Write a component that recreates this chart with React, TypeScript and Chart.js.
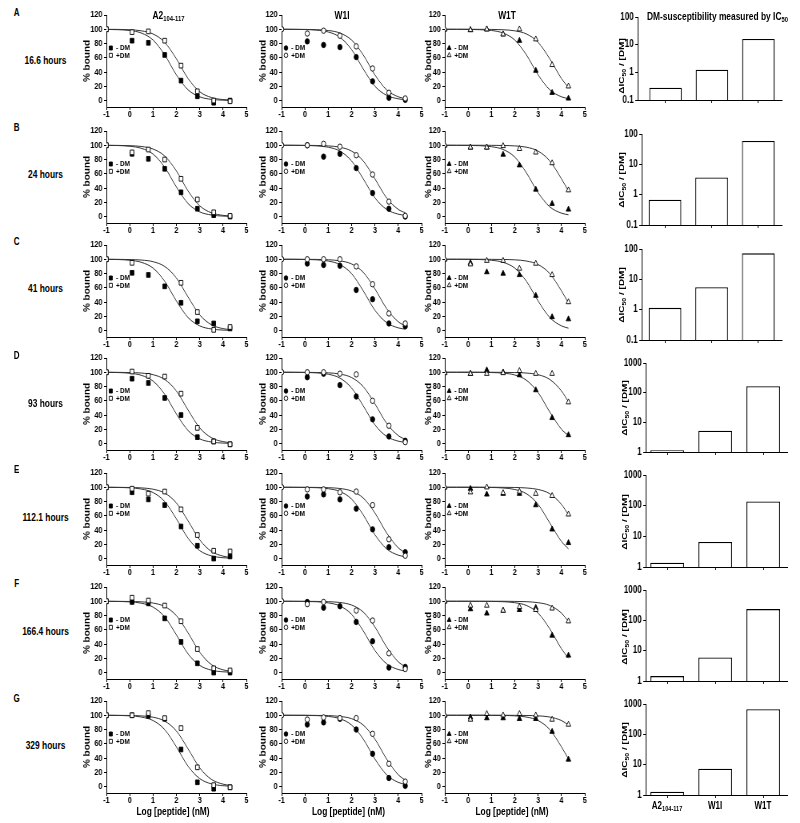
import React, { useEffect, useRef } from 'react';
import { Chart, registerables } from 'chart.js';
import { drawPoint } from 'chart.js/helpers';

Chart.register(...registerables);

// ---------------- data ----------------
const X_PTS = [-1, 0.1, 0.8, 1.5, 2.2, 2.9, 3.6, 4.3];
const X_FIT = [-1, -0.5, 0, 0.5, 1, 1.5, 2, 2.5, 3, 3.5, 4, 4.3];
const X_TICKS = [-1, 0, 1, 2, 3, 4, 5];
const Y_TICKS = [0, 20, 40, 60, 80, 100, 120];
const ROW_LETTERS = ['A', 'B', 'C', 'D', 'E', 'F', 'G'];
const ROW_TIMES = ['16.6 hours', '24 hours', '41 hours', '93 hours', '112.1 hours', '166.4 hours', '329 hours'];
const LEGEND_LABELS = ['- DM', '+DM'];
const X_TITLE = 'Log [peptide] (nM)';
const Y_TITLE = '% bound';

// Row A (16.6 h)
const A_A2_NO = [100, 84, 81, 64, 28, 6, -3, 0];
const A_A2_DM = [100, 96, 97, 84, 49, 13, 0, -1];
const A_A2_FIT_NO = [99.8, 99.4, 98.3, 94.7, 84.9, 64.0, 36.0, 15.1, 5.3, 1.7, 0.6, 0.3];
const A_A2_FIT_DM = [99.9, 99.8, 99.3, 97.8, 93.4, 81.7, 58.5, 30.9, 12.4, 4.3, 1.4, 0.7];
const A_W1I_NO = [100, 83, 78, 75, 61, 27, 4, 1];
const A_W1I_DM = [100, 94, 98, 91, 76, 45, 11, 3];
const A_W1I_FIT_NO = [100, 99.9, 99.6, 98.8, 96.2, 88.8, 71.5, 44.3, 20.1, 7.4, 2.5, 1.2];
const A_W1I_FIT_DM = [100, 99.9, 99.8, 99.4, 98.3, 94.7, 84.9, 64.0, 36.0, 15.1, 5.3, 2.7];
const A_W1T_NO = [100, 99, 100, 93, 84, 42, 11, 3];
const A_W1T_DM = [100, 99, 100, 93, 100, 86, 50, 20];
const A_W1T_FIT_NO = [100, 99.9, 99.8, 99.4, 98.3, 94.7, 84.9, 64.0, 36.0, 15.1, 5.3, 2.7];
const A_W1T_FIT_DM = [100, 100, 100, 99.9, 99.8, 99.3, 97.8, 93.4, 81.7, 58.5, 30.9, 18.3];

// Row B (24 h)
const B_A2_NO = [100, 88, 81, 67, 34, 11, 2, 0];
const B_A2_DM = [100, 90, 94, 80, 53, 24, 6, 1];
const B_A2_FIT_NO = [99.9, 99.6, 98.6, 95.7, 87.6, 69.1, 41.5, 18.3, 6.6, 2.2, 0.7, 0.4];
const B_A2_FIT_DM = [99.9, 99.8, 99.4, 98.3, 94.7, 84.9, 64.0, 36.0, 15.1, 5.3, 1.7, 0.9];
const B_W1I_NO = [100, 100, 84, 88, 68, 33, 11, 0];
const B_W1I_DM = [100, 100, 102, 98, 86, 59, 21, 1];
const B_W1I_FIT_NO = [100, 99.9, 99.7, 99.1, 97.3, 91.8, 78.0, 52.9, 26.2, 10.1, 3.4, 1.7];
const B_W1I_FIT_DM = [100, 100, 99.9, 99.7, 99.1, 97.3, 91.8, 78.0, 52.9, 26.2, 10.1, 5.3];
const B_W1T_NO = [100, 97, 97, 87, 72, 38, 18, 10];
const B_W1T_DM = [100, 97, 97, 99, 95, 90, 75, 37];
const B_W1T_FIT_NO = [100, 99.9, 99.8, 99.4, 98.0, 94.1, 83.4, 61.3, 33.4, 13.7, 4.8, 2.5];
const B_W1T_FIT_DM = [100, 100, 100, 100, 99.9, 99.7, 99.1, 97.3, 91.8, 78.0, 52.9, 36.0];

// Row C (41 h)
const C_A2_NO = [100, 81, 78, 62, 39, 13, 10, 3];
const C_A2_DM = [100, 95, null, null, 67, 26, 1, 5];
const C_A2_FIT_NO = [99.9, 99.6, 98.6, 95.7, 87.6, 69.1, 41.5, 18.3, 6.6, 2.2, 0.7, 0.4];
const C_A2_FIT_DM = [100, 99.9, 99.6, 98.9, 96.6, 89.9, 73.8, 47.1, 22.0, 8.2, 2.7, 1.4];
const C_W1I_NO = [100, 94, 92, 91, 57, 44, 10, 6];
const C_W1I_DM = [100, 100, 100, 100, 90, 65, 24, 10];
const C_W1I_FIT_NO = [100, 99.9, 99.7, 99.2, 97.5, 92.6, 79.9, 55.7, 28.5, 11.2, 3.8, 2.0];
const C_W1I_FIT_DM = [100, 100, 99.9, 99.8, 99.3, 97.8, 93.4, 81.7, 58.5, 30.9, 12.4, 6.6];
const C_W1T_NO = [100, 95, 82, 80, 78, 49, 19, 16];
const C_W1T_DM = [100, 93, 98, 98, 87, 94, 78, 40];
const C_W1T_FIT_NO = [100, 100, 99.9, 99.6, 98.6, 95.7, 87.6, 69.1, 41.5, 18.3, 6.6, 3.4];
const C_W1T_FIT_DM = [100, 100, 100, 100, 99.9, 99.7, 99.2, 97.5, 92.6, 79.9, 55.7, 38.7];

// Row D (93 h)
const D_A2_NO = [100, 91, 85, 64, 40, 9, 3, -1];
const D_A2_DM = [100, 101, 95, 94, 70, 22, 3, -1];
const D_A2_FIT_NO = [99.9, 99.6, 98.6, 95.7, 87.6, 69.1, 41.5, 18.3, 6.6, 2.2, 0.7, 0.4];
const D_A2_FIT_DM = [100, 99.9, 99.6, 98.9, 96.6, 89.9, 73.8, 47.1, 22.0, 8.2, 2.7, 1.4];
const D_W1I_NO = [100, 93, 98, 82, 66, 34, 10, 4];
const D_W1I_DM = [100, 100, 100, 98, 97, 60, 25, 2];
const D_W1I_FIT_NO = [100, 99.9, 99.7, 99.1, 97.3, 91.8, 78.0, 52.9, 26.2, 10.1, 3.4, 1.7];
const D_W1I_FIT_DM = [100, 100, 99.9, 99.7, 99.2, 97.5, 92.6, 79.9, 55.7, 28.5, 11.2, 5.9];
const D_W1T_NO = [100, 98, 103, 100, 96, 75, 36, 12];
const D_W1T_DM = [99, 98, 98, 99, 102, 98, 98, 58];
const D_W1T_FIT_NO = [100, 100, 100, 99.9, 99.6, 98.8, 96.2, 88.8, 71.5, 44.3, 20.1, 11.2];
const D_W1T_FIT_DM = [100, 100, 100, 100, 100, 99.9, 99.6, 98.9, 96.6, 89.9, 73.8, 58.5];

// Row E (112.1 h)
const E_A2_NO = [100, 93, 83, 75, 45, 18, 0, 3];
const E_A2_DM = [100, 98, 91, 94, 69, 33, 11, 10];
const E_A2_FIT_NO = [99.9, 99.7, 99.2, 97.5, 92.6, 79.9, 55.7, 28.5, 11.2, 3.8, 1.2, 0.6];
const E_A2_FIT_DM = [100, 99.9, 99.7, 99.1, 97.3, 91.8, 78.0, 52.9, 26.2, 10.1, 3.4, 1.7];
const E_W1I_NO = [100, 87, 90, 83, 70, 41, 16, 9];
const E_W1I_DM = [100, 97, 97, 93, 94, 75, 27, 4];
const E_W1I_FIT_NO = [100, 99.9, 99.8, 99.4, 98.0, 94.1, 83.4, 61.3, 33.4, 13.7, 4.8, 2.5];
const E_W1I_FIT_DM = [100, 100, 99.9, 99.8, 99.4, 98.3, 94.7, 84.9, 64.0, 36.0, 15.1, 8.2];
const E_W1T_NO = [100, 98, 90, 91, 91, 75, 41, 22];
const E_W1T_DM = [100, 93, 100, 92, 94, 91, 88, 62];
const E_W1T_FIT_NO = [100, 100, 100, 99.9, 99.7, 99.0, 96.9, 90.9, 76.0, 50.0, 24.0, 13.7];
const E_W1T_FIT_DM = [100, 100, 100, 100, 100, 99.9, 99.7, 99.0, 96.9, 90.9, 76.0, 61.3];

// Row F (166.4 h)
const F_A2_NO = [100, 99, 97, 76, 43, 13, 0, 0];
const F_A2_DM = [100, 105, 101, 94, 72, 33, 6, 3];
const F_A2_FIT_NO = [99.9, 99.7, 99.1, 97.3, 91.8, 78.0, 52.9, 26.2, 10.1, 3.4, 1.1, 0.6];
const F_A2_FIT_DM = [100, 99.9, 99.7, 99.2, 97.5, 92.6, 79.9, 55.7, 28.5, 11.2, 3.8, 2.0];
const F_W1I_NO = [100, 99, 91, 93, 71, 44, 7, 8];
const F_W1I_DM = [100, 96, 99, null, 87, 73, 27, 5];
const F_W1I_FIT_NO = [100, 99.9, 99.8, 99.3, 97.8, 93.4, 81.7, 58.5, 30.9, 12.4, 4.3, 2.2];
const F_W1I_FIT_DM = [100, 100, 99.9, 99.8, 99.4, 98.3, 94.7, 84.9, 64.0, 36.0, 15.1, 8.2];
const F_W1T_NO = [100, 89, 83, 87, 88, 91, 52, 24];
const F_W1T_DM = [100, 94, 94, 87, 92, 88, 90, 72];
const F_W1T_FIT_NO = [100, 100, 100, 99.9, 99.8, 99.4, 98.0, 94.1, 83.4, 61.3, 33.4, 20.1];
const F_W1T_FIT_DM = [100, 100, 100, 100, 100, 100, 99.8, 99.4, 98.0, 94.1, 83.4, 71.5];

// Row G (329 h)
const G_A2_NO = [100, 100, 99, 95, 52, 6, -3, -1];
const G_A2_DM = [100, 100, 103, 96, 82, 27, 2, -1];
const G_A2_FIT_NO = [99.9, 99.7, 99.2, 97.5, 92.6, 79.9, 55.7, 28.5, 11.2, 3.8, 1.2, 0.6];
const G_A2_FIT_DM = [100, 99.9, 99.7, 99.1, 97.3, 91.8, 78.0, 52.9, 26.2, 10.1, 3.4, 1.7];
const G_W1I_NO = [100, 87, 90, 95, 80, 46, 12, 1];
const G_W1I_DM = [100, 94, 97, 96, 96, 74, 32, 7];
const G_W1I_FIT_NO = [100, 99.9, 99.8, 99.5, 98.4, 95.2, 86.3, 66.6, 38.7, 16.6, 5.9, 3.1];
const G_W1I_FIT_DM = [100, 100, 100, 99.8, 99.5, 98.4, 95.2, 86.3, 66.6, 38.7, 16.6, 9.1];
const G_W1T_NO = [100, 97, 96, 96, 95, 95, 77, 38];
const G_W1T_DM = [100, 94, 102, 100, 102, 100, 94, 87];
const G_W1T_FIT_NO = [100, 100, 100, 100, 99.9, 99.7, 99.2, 97.5, 92.6, 79.9, 55.7, 38.7];
const G_W1T_FIT_DM = [100, 100, 100, 100, 100, 100, 99.9, 99.7, 99.2, 97.5, 92.6, 86.3];

// DM-susceptibility bars (ΔIC50 / [DM]) for A2, W1I, W1T
const BAR_A = [0.28, 1.25, 16];
const BAR_B = [0.68, 3.7, 59];
const BAR_C = [1.15, 5.5, 72];
const BAR_D = [1.14, 5.2, 165];
const BAR_E = [1.38, 6.5, 137];
const BAR_F = [1.45, 6.0, 235];
const BAR_G = [1.29, 7.3, 670];
const LOG_TICKS_LOW = [0.1, 1, 10, 100];
const LOG_TICKS_HIGH = [1, 10, 100, 1000];

// tables built from the named arrays
const LINE_SETS = [
  [[A_A2_NO, A_A2_DM, A_A2_FIT_NO, A_A2_FIT_DM], [A_W1I_NO, A_W1I_DM, A_W1I_FIT_NO, A_W1I_FIT_DM], [A_W1T_NO, A_W1T_DM, A_W1T_FIT_NO, A_W1T_FIT_DM]],
  [[B_A2_NO, B_A2_DM, B_A2_FIT_NO, B_A2_FIT_DM], [B_W1I_NO, B_W1I_DM, B_W1I_FIT_NO, B_W1I_FIT_DM], [B_W1T_NO, B_W1T_DM, B_W1T_FIT_NO, B_W1T_FIT_DM]],
  [[C_A2_NO, C_A2_DM, C_A2_FIT_NO, C_A2_FIT_DM], [C_W1I_NO, C_W1I_DM, C_W1I_FIT_NO, C_W1I_FIT_DM], [C_W1T_NO, C_W1T_DM, C_W1T_FIT_NO, C_W1T_FIT_DM]],
  [[D_A2_NO, D_A2_DM, D_A2_FIT_NO, D_A2_FIT_DM], [D_W1I_NO, D_W1I_DM, D_W1I_FIT_NO, D_W1I_FIT_DM], [D_W1T_NO, D_W1T_DM, D_W1T_FIT_NO, D_W1T_FIT_DM]],
  [[E_A2_NO, E_A2_DM, E_A2_FIT_NO, E_A2_FIT_DM], [E_W1I_NO, E_W1I_DM, E_W1I_FIT_NO, E_W1I_FIT_DM], [E_W1T_NO, E_W1T_DM, E_W1T_FIT_NO, E_W1T_FIT_DM]],
  [[F_A2_NO, F_A2_DM, F_A2_FIT_NO, F_A2_FIT_DM], [F_W1I_NO, F_W1I_DM, F_W1I_FIT_NO, F_W1I_FIT_DM], [F_W1T_NO, F_W1T_DM, F_W1T_FIT_NO, F_W1T_FIT_DM]],
  [[G_A2_NO, G_A2_DM, G_A2_FIT_NO, G_A2_FIT_DM], [G_W1I_NO, G_W1I_DM, G_W1I_FIT_NO, G_W1I_FIT_DM], [G_W1T_NO, G_W1T_DM, G_W1T_FIT_NO, G_W1T_FIT_DM]],
];
const BAR_SETS = [
  { vals: BAR_A, ticks: LOG_TICKS_LOW },
  { vals: BAR_B, ticks: LOG_TICKS_LOW },
  { vals: BAR_C, ticks: LOG_TICKS_LOW },
  { vals: BAR_D, ticks: LOG_TICKS_HIGH },
  { vals: BAR_E, ticks: LOG_TICKS_HIGH },
  { vals: BAR_F, ticks: LOG_TICKS_HIGH },
  { vals: BAR_G, ticks: LOG_TICKS_HIGH },
];

// ---------------- layout / style ----------------
const SQUISH = 0.8; // the source figure is horizontally compressed
const FONT = "'Liberation Sans', Arial, Helvetica, sans-serif";
const MARKERS = ['rect', 'circle', 'triangle'];
const MARKER_R = [3.3, 2.7, 3.3];
const ZERO_Y = [101, 216.7, 330.7, 444.3, 558.7, 673.3, 786.7];
const PX_PER_UNIT = 0.716;
const Y_MIN = -9;
const LINE_LEFT_SQ = [106, 281.5, 445];
const LINE_W = 140 / SQUISH;
const LINE_AXIS_W = [30, 29, 26];
const PAD_T = 8;
const PAD_R = 8;
const PAD_B = 14;
// bar plot boxes in source px: left, right, top, bottom, x-min
const BAR_GEOM = [
  [637.3, 781, 17, 101.7, 0.4],
  [641.7, 781.7, 134, 226.7, 0.5],
  [641.5, 781.5, 248.5, 341, 0.5],
  [645.5, 787, 362.7, 454, 0.55],
  [645.5, 787, 475, 568.7, 0.55],
  [645.5, 787, 590, 683.3, 0.55],
  [645.5, 787, 704, 796.7, 0.55],
];
const BAR_AXIS_W = 30;

const toXY = (xs: number[], ys: (number | null)[]) =>
  xs.map((x, i) => ({ x, y: ys[i] })).filter((p) => p.y !== null && p.y !== undefined);

const insideLegend = {
  id: 'insideLegend',
  afterDatasetsDraw(chart: any, _args: any, opts: any) {
    if (!opts || !opts.items) return;
    const { ctx, chartArea } = chart;
    ctx.save();
    opts.items.forEach((it: any, i: number) => {
      const x = chartArea.left + opts.x;
      const y = chartArea.top + opts.y + i * opts.gap;
      ctx.fillStyle = it.fill;
      ctx.strokeStyle = '#000';
      ctx.lineWidth = 0.9;
      drawPoint(ctx, { pointStyle: opts.style, radius: opts.radius, borderWidth: 0.9, rotation: 0 } as any, x, y);
      ctx.fillStyle = '#000';
      ctx.font = `bold 8px ${FONT}`;
      ctx.textAlign = 'left';
      ctx.textBaseline = 'middle';
      ctx.fillText(it.label, x + opts.textDx, y);
    });
    ctx.restore();
  },
};

const axisLines = {
  grid: { display: true, drawOnChartArea: false, drawTicks: true, tickLength: 3, color: '#000', lineWidth: 1 },
  border: { display: true, color: '#000', width: 1 },
};

function lineConfig(row: number, col: number) {
  const [noDM, dm, fitNo, fitDM] = LINE_SETS[row][col] as any[];
  const style = MARKERS[col];
  const r = MARKER_R[col];
  return {
    type: 'scatter',
    data: {
      datasets: [
        { label: LEGEND_LABELS[1], data: toXY(X_PTS, dm), pointStyle: style, pointRadius: r, backgroundColor: '#fff', borderColor: '#000', borderWidth: 0.9, showLine: false, order: 0 },
        { label: LEGEND_LABELS[0], data: toXY(X_PTS, noDM), pointStyle: style, pointRadius: r, backgroundColor: '#000', borderColor: '#000', borderWidth: 0.9, showLine: false, order: 1 },
        { data: toXY(X_FIT, fitDM), showLine: true, pointRadius: 0, borderColor: '#333', borderWidth: 1, cubicInterpolationMode: 'monotone', order: 2 },
        { data: toXY(X_FIT, fitNo), showLine: true, pointRadius: 0, borderColor: '#333', borderWidth: 1, cubicInterpolationMode: 'monotone', order: 3 },
      ],
    },
    options: {
      responsive: false,
      animation: false,
      events: [],
      layout: { padding: { top: PAD_T, right: PAD_R, left: 0, bottom: 0 } },
      plugins: {
        legend: { display: false },
        tooltip: { enabled: false },
        insideLegend: {
          items: [
            { label: LEGEND_LABELS[0], fill: '#000' },
            { label: LEGEND_LABELS[1], fill: '#fff' },
          ],
          style,
          radius: r * 0.85,
          x: 5.5,
          y: 33,
          gap: 7.3,
          textDx: 6.5,
        },
      },
      scales: {
        x: {
          type: 'linear',
          min: -1,
          max: 5,
          afterBuildTicks: (s: any) => { s.ticks = X_TICKS.map((v) => ({ value: v })); },
          afterFit: (s: any) => { s.height = PAD_B; },
          ticks: { font: { family: FONT, size: 9, weight: 'bold' }, color: '#000', padding: -1, maxRotation: 0, autoSkip: false },
          ...axisLines,
        },
        y: {
          type: 'linear',
          min: Y_MIN,
          max: 120,
          afterBuildTicks: (s: any) => { s.ticks = Y_TICKS.map((v) => ({ value: v })); },
          afterFit: (s: any) => { s.width = LINE_AXIS_W[col]; },
          ticks: { font: { family: FONT, size: 9, weight: 'bold' }, color: '#000', padding: 2, autoSkip: false },
          title: { display: true, text: Y_TITLE, color: '#000', font: { family: FONT, size: 10, weight: 'bold' }, padding: 0 },
          ...axisLines,
        },
      },
    },
    plugins: [insideLegend],
  };
}

function barConfig(row: number) {
  const { vals, ticks } = BAR_SETS[row];
  const xmin = BAR_GEOM[row][4];
  return {
    type: 'bar',
    data: {
      datasets: [
        {
          data: vals.map((v, i) => ({ x: i + 1, y: v })),
          backgroundColor: '#fff',
          borderColor: '#000',
          borderWidth: 1.3,
          barPercentage: 0.7,
          categoryPercentage: 1,
        },
      ],
    },
    options: {
      responsive: false,
      animation: false,
      events: [],
      layout: { padding: { top: PAD_T, right: PAD_R, left: 0, bottom: 0 } },
      plugins: { legend: { display: false }, tooltip: { enabled: false } },
      scales: {
        x: {
          type: 'linear',
          min: xmin,
          max: 3.5,
          offset: false,
          afterBuildTicks: (s: any) => { s.ticks = [1, 2, 3].map((v) => ({ value: v })); },
          afterFit: (s: any) => { s.height = 6; },
          ticks: { display: false },
          ...axisLines,
          grid: { ...axisLines.grid, offset: false },
        },
        y: {
          type: 'logarithmic',
          min: ticks[0],
          max: ticks[ticks.length - 1],
          afterBuildTicks: (s: any) => { s.ticks = ticks.map((v) => ({ value: v })); },
          afterFit: (s: any) => { s.width = BAR_AXIS_W; },
          ticks: { font: { family: FONT, size: 10, weight: 'bold' }, color: '#000', padding: 2, autoSkip: false, callback: (v: any) => String(v) },
          ...axisLines,
        },
      },
    },
  };
}

function ChartCanvas({ left, top, width, height, make }: { left: number; top: number; width: number; height: number; make: () => any }) {
  const ref = useRef<HTMLCanvasElement | null>(null);
  useEffect(() => {
    if (!ref.current) return;
    const chart = new Chart(ref.current, make());
    return () => chart.destroy();
  }, []);
  return (
    <canvas
      ref={ref}
      width={Math.round(width)}
      height={Math.round(height)}
      style={{ position: 'absolute', left, top, width: Math.round(width), height: Math.round(height) }}
    />
  );
}

function Text({ x, y, size, rotate, children }: { x: number; y: number; size: number; rotate?: boolean; children: any }) {
  return (
    <div
      style={{
        position: 'absolute',
        left: x,
        top: y,
        transform: `translate(-50%, -50%)${rotate ? ' rotate(-90deg)' : ''}`,
        fontFamily: FONT,
        fontWeight: 'bold',
        fontSize: size,
        lineHeight: 1,
        whiteSpace: 'nowrap',
        color: '#000',
      }}
    >
      {children}
    </div>
  );
}

const Sub = ({ children }: { children: any }) => (
  <span style={{ fontSize: '0.7em', position: 'relative', top: '0.35em' }}>{children}</span>
);

const sx = (v: number) => v / SQUISH;

export default function App() {
  const lineCells: any[] = [];
  const barCells: any[] = [];
  const texts: any[] = [];

  ROW_LETTERS.forEach((letter, row) => {
    const zero = ZERO_Y[row];
    const top = zero - 120 * PX_PER_UNIT;
    const bottom = zero - Y_MIN * PX_PER_UNIT;
    for (let col = 0; col < 3; col++) {
      const left = sx(LINE_LEFT_SQ[col]);
      const axW = LINE_AXIS_W[col];
      lineCells.push(
        <ChartCanvas
          key={`l${row}-${col}`}
          left={left - axW}
          top={top - PAD_T}
          width={axW + LINE_W + PAD_R}
          height={PAD_T + (bottom - top) + PAD_B}
          make={() => lineConfig(row, col)}
        />
      );
    }
    const [bl, br, bt, bb] = BAR_GEOM[row];
    barCells.push(
      <ChartCanvas
        key={`b${row}`}
        left={sx(bl) - BAR_AXIS_W}
        top={bt - PAD_T}
        width={BAR_AXIS_W + sx(br) - sx(bl) + PAD_R}
        height={PAD_T + (bb - bt) + 6}
        make={() => barConfig(row)}
      />
    );
    texts.push(<Text key={`let${row}`} x={sx(16.7)} y={13.3 + 114.2 * row} size={10}>{letter}</Text>);
    texts.push(<Text key={`time${row}`} x={sx(45.5)} y={60 + 114.2 * row} size={10.5}>{ROW_TIMES[row]}</Text>);
    const titleY = row === 0 ? 66 : (bt + bb) / 2;
    texts.push(
      <Text key={`bt${row}`} x={sx(row < 3 ? 621.5 : 624.5)} y={titleY} size={10} rotate>
        ΔIC<Sub>50</Sub> / [DM]
      </Text>
    );
  });

  // x-axis titles under the last row of curves
  for (let col = 0; col < 3; col++) {
    const cx = sx(LINE_LEFT_SQ[col]) + LINE_W / 2 - sx(3);
    texts.push(<Text key={`xt${col}`} x={cx} y={811} size={10.5}>{X_TITLE}</Text>);
  }

  // column titles
  texts.push(<Text key="t0" x={sx(168.5)} y={14.5} size={10.5}>A2<Sub>104-117</Sub></Text>);
  texts.push(<Text key="t1" x={sx(342)} y={14.5} size={10.5}>W1I</Text>);
  texts.push(<Text key="t2" x={sx(507)} y={14.5} size={10.5}>W1T</Text>);
  texts.push(<Text key="t3" x={sx(717.5)} y={15.5} size={10.5}>DM-susceptibility measured by IC<Sub>50</Sub></Text>);

  // bar category labels under the last row
  const g = BAR_GEOM[BAR_GEOM.length - 1];
  const gl = sx(g[0]);
  const gw = sx(g[1]) - sx(g[0]);
  const cats = [<>A2<Sub>104-117</Sub></>, <>W1I</>, <>W1T</>];
  cats.forEach((c, i) => {
    const x = gl + ((i + 1 - g[4]) / (3.5 - g[4])) * gw;
    texts.push(<Text key={`cat${i}`} x={x} y={806} size={10}>{c}</Text>);
  });

  return (
    <div
      style={{
        position: 'absolute',
        left: 0,
        top: 0,
        width: 800 / SQUISH,
        height: 823,
        transform: `scaleX(${SQUISH})`,
        transformOrigin: '0 0',
        background: '#fff',
        overflow: 'hidden',
      }}
    >
      {lineCells}
      {barCells}
      {texts}
    </div>
  );
}
